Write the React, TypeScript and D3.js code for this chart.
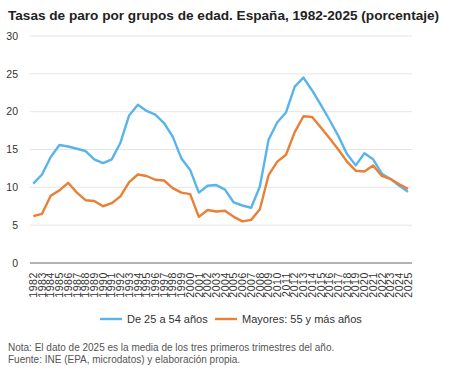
import React from "react";
import * as d3 from "d3";

const years: number[] = d3.range(1982, 2026);
const prime: number[] = [10.5, 11.7, 14.0, 15.6, 15.4, 15.1, 14.8, 13.7, 13.2, 13.7, 15.9, 19.5, 20.9, 20.1, 19.6, 18.5, 16.7, 13.8, 12.3, 9.3, 10.2, 10.3, 9.7, 8.0, 7.6, 7.3, 10.1, 16.3, 18.6, 19.9, 23.3, 24.5, 22.8, 20.9, 18.9, 16.8, 14.4, 12.9, 14.5, 13.7, 11.8, 11.1, 10.2, 9.4];
const senior: number[] = [6.2, 6.5, 8.9, 9.6, 10.6, 9.3, 8.3, 8.2, 7.5, 7.9, 8.8, 10.7, 11.7, 11.5, 11.0, 10.9, 9.9, 9.3, 9.1, 6.1, 7.0, 6.8, 6.9, 6.1, 5.5, 5.7, 7.1, 11.6, 13.4, 14.3, 17.3, 19.4, 19.3, 17.9, 16.5, 15.0, 13.4, 12.2, 12.1, 12.9, 11.5, 11.1, 10.4, 9.8];
const yTicks: number[] = [0, 5, 10, 15, 20, 25, 30];
const seriesNames: string[] = ["De 25 a 54 años", "Mayores: 55 y más años"];
const colors: string[] = ["#5ab4ec", "#ea7f36"];
const title = "Tasas de paro por grupos de edad. España, 1982-2025 (porcentaje)";
const notes: string[] = [
  "Nota: El dato de 2025 es la media de los tres primeros trimestres del año.",
  "Fuente: INE (EPA, microdatos) y elaboración propia.",
];

const FONT = "'Liberation Sans', Arial, Helvetica, sans-serif";

export default function App() {
  const W = 450, H = 375;
  const x = d3.scaleLinear().domain([1982, 2025]).range([33.3, 408]);
  const y = d3.scaleLinear().domain([0, 30]).range([263, 36]);
  const gridX0 = 30, gridX1 = 412;
  const line = d3
    .line<number>()
    .x((_, i) => x(years[i]))
    .y((d) => y(d));
  const data = [prime, senior];

  return (
    <div style={{ position: "absolute", left: 0, top: 0 }}>
      <svg width={W} height={H} style={{ display: "block", background: "#fff" }} fontFamily={FONT}>
        <rect width={W} height={H} fill="#fff" />
        <text x={8} y={20} fontSize={13.6} fontWeight="bold" fill="#222">{title}</text>
        {yTicks.map((t) => (
          <g key={t}>
            {t > 0 && (
              <line x1={gridX0} x2={gridX1} y1={y(t)} y2={y(t)} stroke="#e6e6e6" strokeWidth={1} />
            )}
            <text x={18} y={y(t)} dy="0.35em" textAnchor="end" fontSize={10.5} fill="#333">{t}</text>
          </g>
        ))}
        <line x1={gridX0} x2={gridX1} y1={y(0)} y2={y(0)} stroke="#666" strokeWidth={1} />
        {years.map((yr) => (
          <text
            key={yr}
            transform={`translate(${x(yr)},${272}) rotate(-90)`}
            textAnchor="end"
            dy="0.35em"
            fontSize={10.5}
            letterSpacing={0.6}
            fill="#333"
          >
            {yr}
          </text>
        ))}
        {data.map((d, i) => (
          <path key={i} d={line(d) || ""} fill="none" stroke={colors[i]} strokeWidth={2.4} strokeLinejoin="round" />
        ))}
        <g fontSize={11} fill="#333">
          <line x1={100} x2={122} y1={319} y2={319} stroke={colors[0]} strokeWidth={2.4} />
          <text x={127} y={319} dy="0.35em">{seriesNames[0]}</text>
          <line x1={215} x2={237} y1={319} y2={319} stroke={colors[1]} strokeWidth={2.4} />
          <text x={242} y={319} dy="0.35em">{seriesNames[1]}</text>
        </g>
        {notes.map((n, i) => (
          <text key={i} x={8} y={351 + i * 12} fontSize={10} fill="#555">{n}</text>
        ))}
      </svg>
    </div>
  );
}
